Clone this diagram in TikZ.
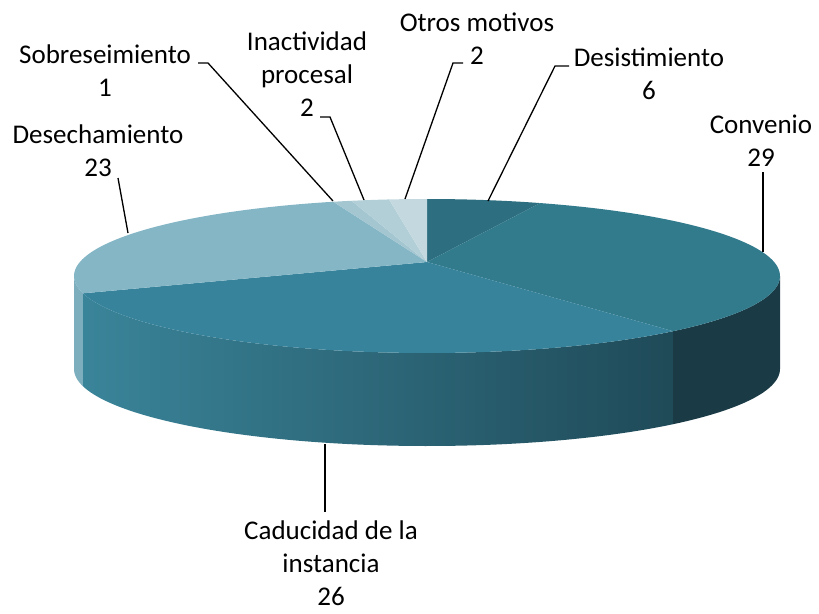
\documentclass[tikz,border=0pt]{standalone}
\usepackage{fontspec}
\setmainfont{Carlito}
\definecolor{tDes}{HTML}{2D6E80}
\definecolor{tConv}{HTML}{327B8D}
\definecolor{tCad}{HTML}{37839B}
\definecolor{tDesech}{HTML}{84B6C6}
\definecolor{tSobre}{HTML}{A3C6D1}
\definecolor{tInac}{HTML}{B2CFD8}
\definecolor{tOtros}{HTML}{C4D9DF}
\definecolor{sDesech}{HTML}{7DAEBE}
\definecolor{sCadL}{HTML}{3A8499}
\definecolor{sCadR}{HTML}{1F4A58}
\definecolor{sConv}{HTML}{1A3A45}
\newcommand\EX[1]{427+353*cos(#1)}
\newcommand\EY[1]{276-77*sin(#1)}
\begin{document}
\begin{tikzpicture}[x=1pt,y=-1pt,
  lbl/.style={font=\fontsize{27}{33}\selectfont, align=center, inner sep=0pt, anchor=base},
  leader/.style={draw=black, line width=1.3pt}]
\useasboundingbox (0,0) rectangle (819,613);
\coordinate (apex) at (427,262);
% sides
\fill[sDesech] plot[domain=-180:-167,samples=10,variable=\q] ({\EX{\q}},{\EY{\q}}) -- plot[domain=-167:-180,samples=10,variable=\q] ({\EX{\q}},{\EY{\q}+93}) -- cycle;
\shade[left color=sCadL, right color=sCadR] plot[domain=-167:-45.8,samples=80,variable=\q] ({\EX{\q}},{\EY{\q}}) -- plot[domain=-45.8:-167,samples=80,variable=\q] ({\EX{\q}},{\EY{\q}+93}) -- cycle;
\fill[sConv] plot[domain=-45.8:0,samples=30,variable=\q] ({\EX{\q}},{\EY{\q}}) -- plot[domain=0:-45.8,samples=30,variable=\q] ({\EX{\q}},{\EY{\q}+93}) -- cycle;
% top slices
\fill[tDes] (apex) -- plot[domain=90:71.3,samples=20,variable=\q] ({\EX{\q}},{\EY{\q}}) -- cycle;
\fill[tConv] (apex) -- plot[domain=71.3:-45.8,samples=80,variable=\q] ({\EX{\q}},{\EY{\q}}) -- cycle;
\fill[tCad] (apex) -- plot[domain=-45.8:-167,samples=80,variable=\q] ({\EX{\q}},{\EY{\q}}) -- cycle;
\fill[tDesech] (apex) -- plot[domain=-167:-254.6,samples=60,variable=\q] ({\EX{\q}},{\EY{\q}}) -- cycle;
\fill[tSobre] (apex) -- plot[domain=105.4:102.35,samples=5,variable=\q] ({\EX{\q}},{\EY{\q}}) -- cycle;
\fill[tInac] (apex) -- plot[domain=102.35:96.17,samples=8,variable=\q] ({\EX{\q}},{\EY{\q}}) -- cycle;
\fill[tOtros] (apex) -- plot[domain=96.17:90,samples=8,variable=\q] ({\EX{\q}},{\EY{\q}}) -- cycle;
% labels (base anchor = baseline of last line)
\node[lbl] (lSobre) at (105,96) {Sobreseimiento\\1};
\node[lbl] (lDesech) at (98,176) {Desechamiento\\23};
\node[lbl] (lInac) at (307,116) {Inactividad\\procesal\\2};
\node[lbl] (lOtros) at (477,64) {Otros motivos\\2};
\node[lbl] (lDes) at (649,99) {Desistimiento\\6};
\node[lbl] (lConv) at (761,166) {Convenio\\29};
\node[lbl] (lCad) at (331,605) {Caducidad de la\\instancia\\26};
% leader anchor points
\coordinate (sobreA) at (198,63);
\coordinate (sobreB) at (208,63);
\coordinate (sobreP) at (333,201);
\coordinate (inacA) at (320,117);
\coordinate (inacB) at (330,117);
\coordinate (inacP) at (364,200);
\coordinate (otrosA) at (463,63);
\coordinate (otrosB) at (453,63);
\coordinate (otrosP) at (405,199);
\coordinate (desA) at (569,66);
\coordinate (desB) at (555,66);
\coordinate (desP) at (488,201);
\coordinate (convA) at (763,172);
\coordinate (convP) at (763,252);
\coordinate (desechA) at (118,178);
\coordinate (desechP) at (128,233);
\coordinate (cadA) at (325,512);
\coordinate (cadP) at (325,444);
\draw[leader] (sobreA) -- (sobreB) -- (sobreP);
\draw[leader] (inacA) -- (inacB) -- (inacP);
\draw[leader] (otrosA) -- (otrosB) -- (otrosP);
\draw[leader] (desA) -- (desB) -- (desP);
\draw[leader] (convA) -- (convP);
\draw[leader] (desechA) -- (desechP);
\draw[leader] (cadA) -- (cadP);
\end{tikzpicture}
\end{document}
